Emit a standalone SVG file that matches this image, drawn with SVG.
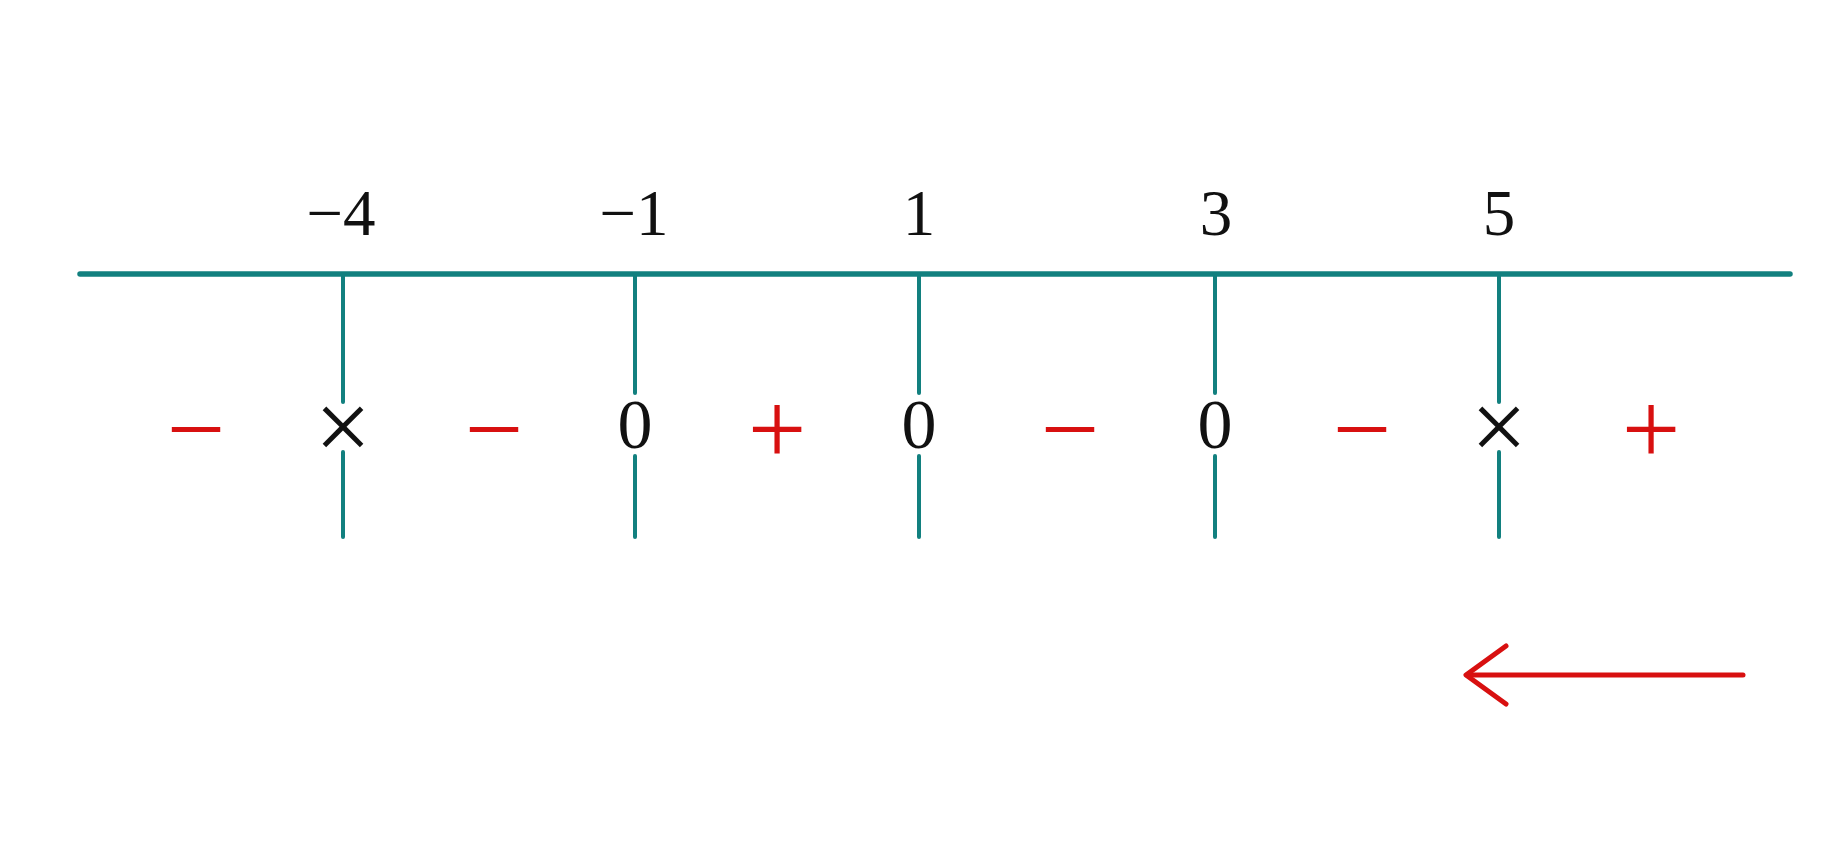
<svg xmlns="http://www.w3.org/2000/svg" width="1846" height="852" viewBox="0 0 1846 852">
<style>
.ax{stroke:#12807f;stroke-linecap:round;fill:none}
.lbl{font-family:"Liberation Serif","Times New Roman",serif;font-size:65px;fill:#111;text-anchor:middle}
.val{font-family:"Liberation Serif","Times New Roman",serif;font-size:70px;fill:#111;text-anchor:middle}
.cross{font-family:"Liberation Serif","Times New Roman",serif;font-size:100px;fill:#111;text-anchor:middle}
.sign{font-family:"Liberation Serif","Times New Roman",serif;font-size:104px;fill:#d81010;text-anchor:middle}
.arr{stroke:#d81010;stroke-width:5;stroke-linecap:round;stroke-linejoin:round;fill:none}
</style>
<rect width="1846" height="852" fill="#ffffff"/>
<g id="connectors">
<line class="ax" x1="80" y1="274" x2="1790" y2="274" stroke-width="5.5"/>
<g stroke-width="4">
<line class="ax" x1="343" y1="274" x2="343" y2="402"/>
<line class="ax" x1="343" y1="452" x2="343" y2="537"/>
<line class="ax" x1="635" y1="274" x2="635" y2="393"/>
<line class="ax" x1="635" y1="456" x2="635" y2="537"/>
<line class="ax" x1="919" y1="274" x2="919" y2="393"/>
<line class="ax" x1="919" y1="456" x2="919" y2="537"/>
<line class="ax" x1="1215" y1="274" x2="1215" y2="393"/>
<line class="ax" x1="1215" y1="456" x2="1215" y2="537"/>
<line class="ax" x1="1499" y1="274" x2="1499" y2="402"/>
<line class="ax" x1="1499" y1="452" x2="1499" y2="537"/>
</g>
<g id="arrow">
<line class="arr" x1="1743" y1="675" x2="1467" y2="675"/>
<polyline class="arr" points="1506,646 1466,675 1506,704"/>
</g>
</g>
<g id="labels">
<text class="lbl" x="341" y="235">−4</text>
<text class="lbl" x="634" y="235">−1</text>
<text class="lbl" x="919" y="235">1</text>
<text class="lbl" x="1216" y="235">3</text>
<text class="lbl" x="1499" y="235">5</text>
</g>
<g id="values">
<text class="cross" x="343" y="460">×</text>
<text class="val" x="635" y="448">0</text>
<text class="val" x="919" y="448">0</text>
<text class="val" x="1215" y="448">0</text>
<text class="cross" x="1499" y="460">×</text>
</g>
<g id="signs">
<text class="sign" x="196" y="464">−</text>
<text class="sign" x="494" y="464">−</text>
<text class="sign" x="777" y="464">+</text>
<text class="sign" x="1070" y="464">−</text>
<text class="sign" x="1362" y="464">−</text>
<text class="sign" x="1651" y="464">+</text>
</g>
</svg>
